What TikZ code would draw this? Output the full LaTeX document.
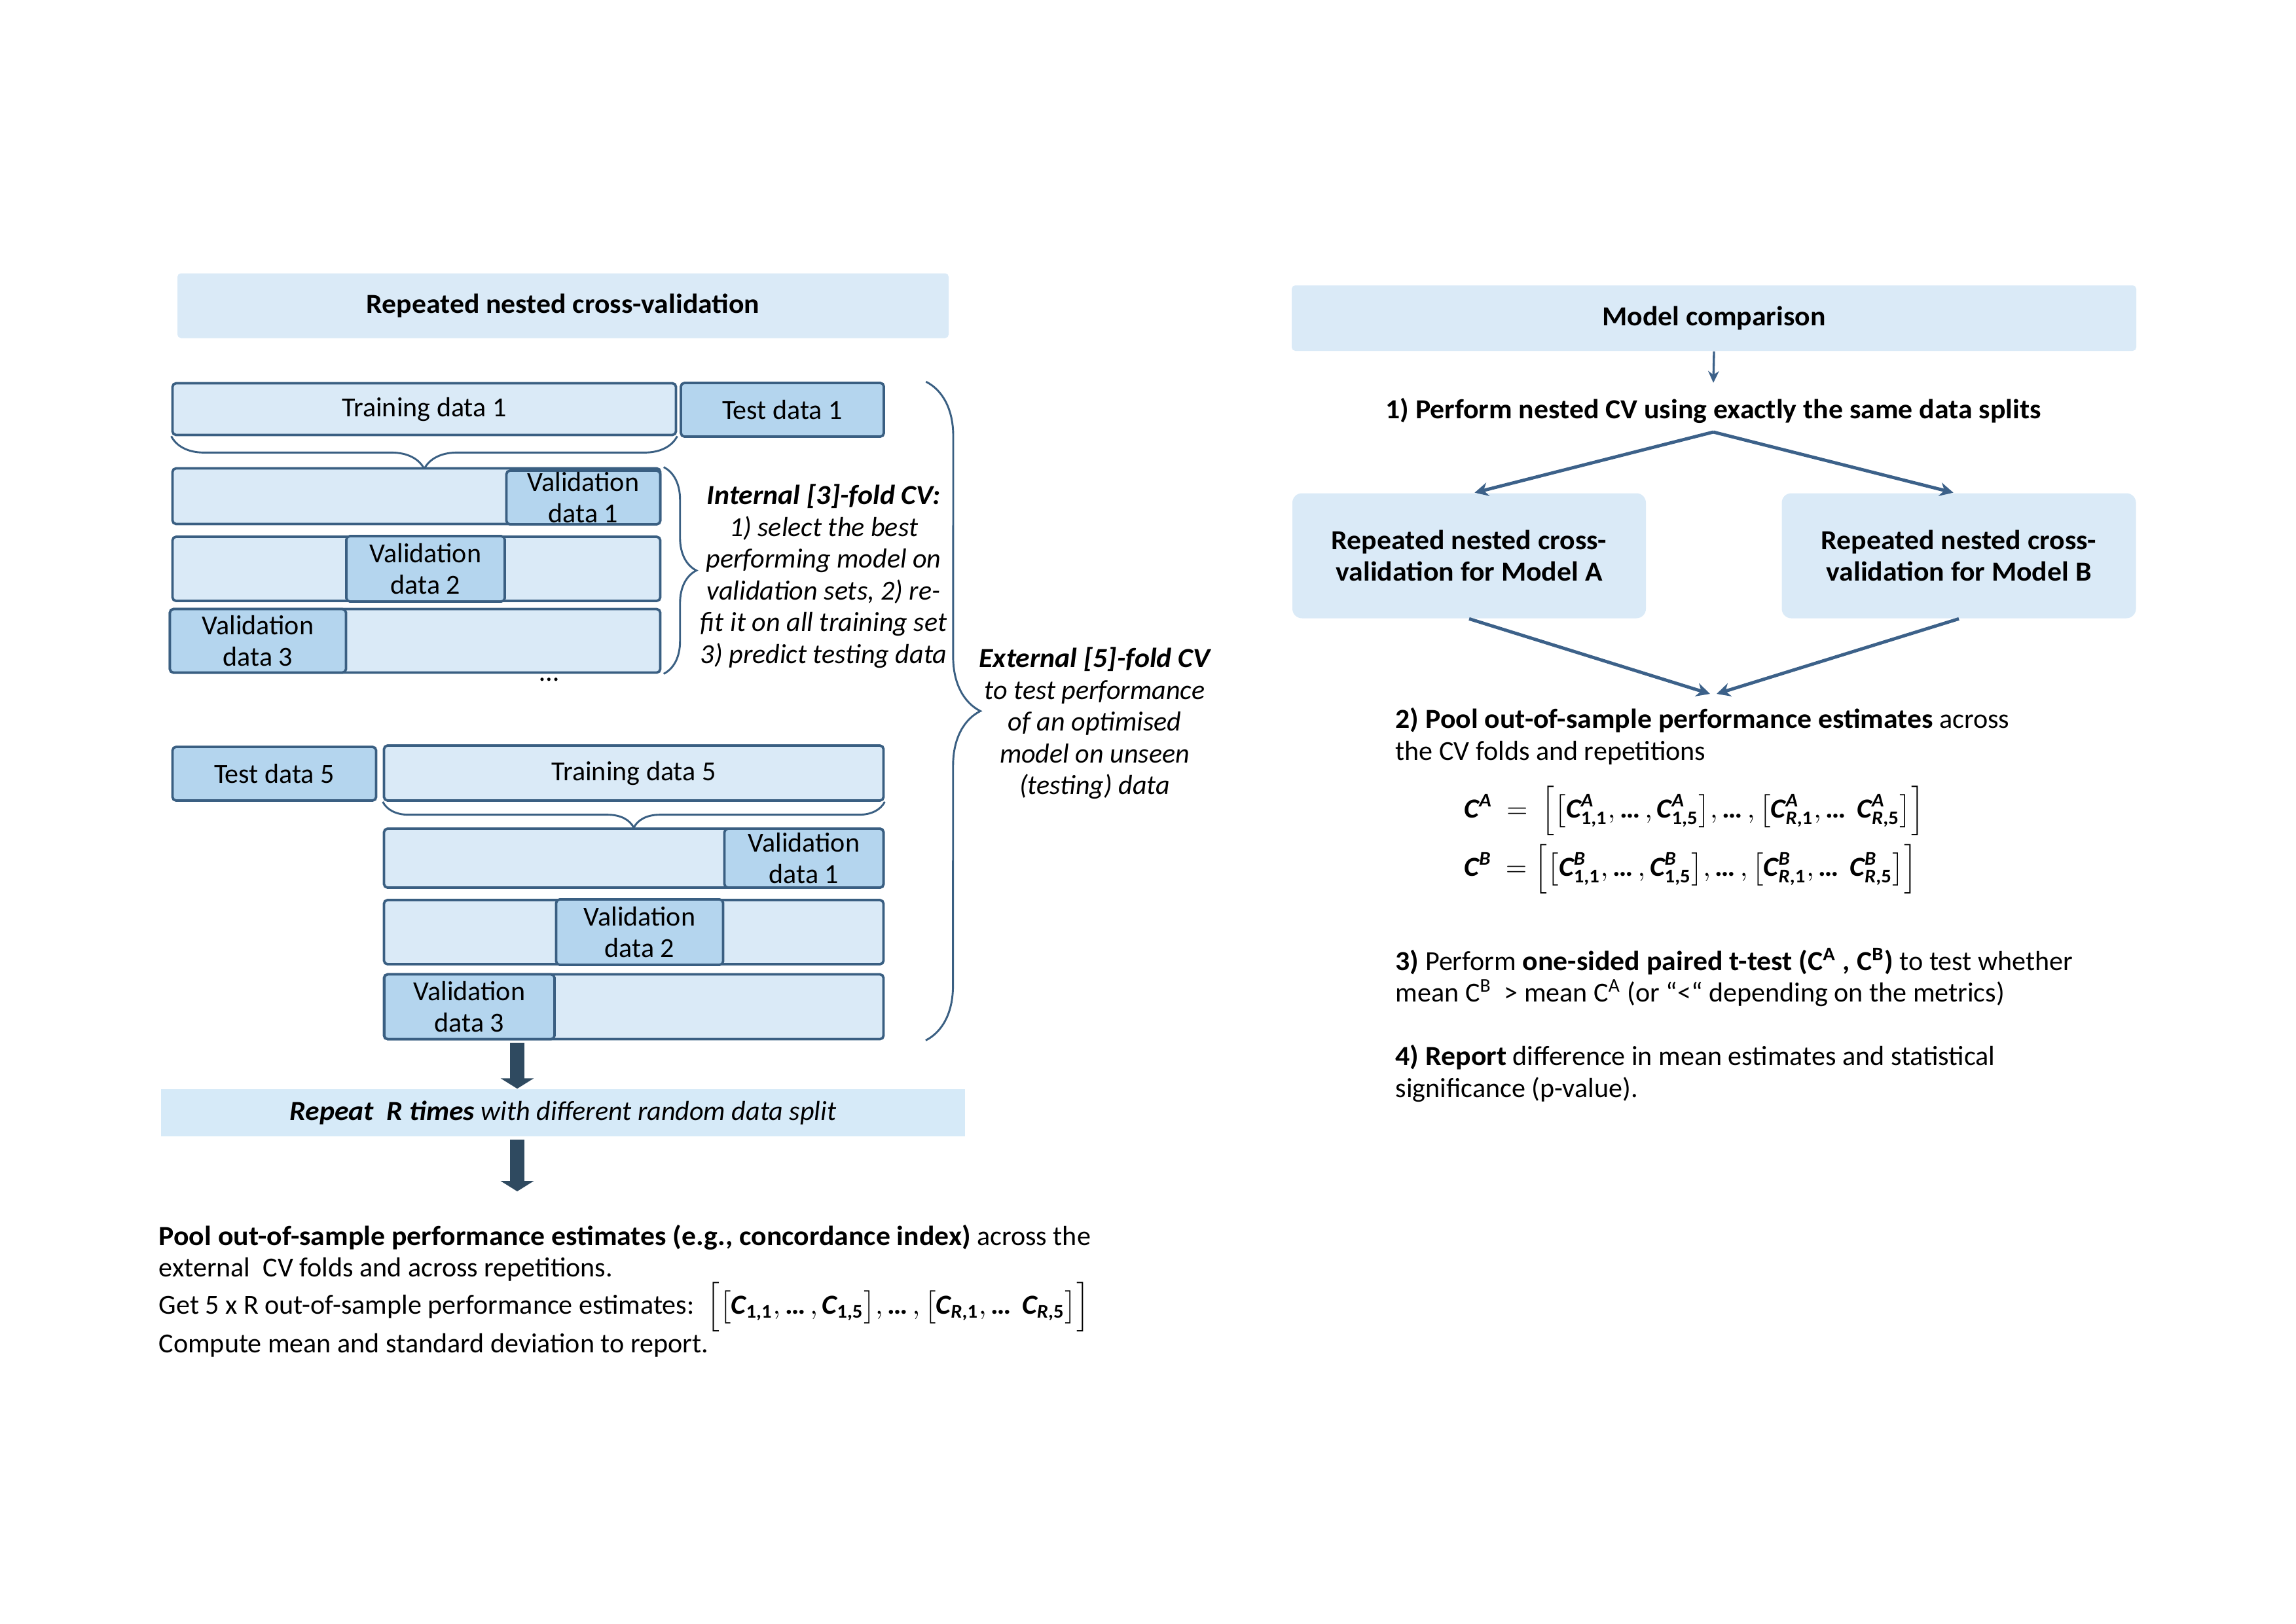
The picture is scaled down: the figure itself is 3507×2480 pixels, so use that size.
\documentclass[tikz,border=0pt]{standalone}
\usepackage{amsmath,amssymb}
\usepackage{fontspec}
\setmainfont{Carlito}[BoldFeatures={FakeStretch=1.04}, BoldItalicFeatures={FakeStretch=1.04}]
\usetikzlibrary{arrows.meta, positioning, decorations.pathreplacing}
\definecolor{edgeblue}{RGB}{58, 95, 130}
\definecolor{lightblue}{RGB}{218, 234, 247}
\definecolor{midblue}{RGB}{180, 213, 238}
\definecolor{repblue}{RGB}{214, 234, 248}
\definecolor{darkarrow}{RGB}{47, 74, 96}
\definecolor{linkblue}{RGB}{60, 97, 137}
\newcommand{\txtsize}{\fontsize{10.1}{11.64}\selectfont}
\newcommand{\mdots}{\mathinner{\text{\normalfont\bfseries …}}}
% bold C with sub- and superscript
\newcommand{\Cbf}{\text{\bfseries\itshape C}}
\newcommand{\Cs}[1]{\Cbf_{\text{\bfseries #1}}}
\newcommand{\Cv}[2]{\Cbf^{\text{\bfseries\itshape #1}}_{\text{\bfseries #2}}}

\begin{document}
\begin{tikzpicture}[x=0.24pt, y=-0.24pt,
  every node/.style={font=\txtsize},
  pxsize/.style 2 args={minimum width=#1*0.24pt, minimum height=#2*0.24pt},
  databox/.style={draw=edgeblue, fill=lightblue, line width=0.9pt, rounded corners=1.3pt, inner sep=0pt},
  valbox/.style={databox, fill=midblue, align=center},
  headbox/.style={fill=lightblue, rounded corners=1.3pt, font=\txtsize\bfseries},
  modelbox/.style={fill=lightblue, rounded corners=3.5pt, align=center, font=\txtsize\bfseries},
  curly/.style={draw=edgeblue, line width=0.7pt, decorate},
  bigarrow/.style={darkarrow, line width=5.5pt, -{Triangle[width=12pt, length=3.8pt]}},
  link/.style={linkblue, line width=1.2pt, -{Stealth[length=5pt, width=5pt]}},
  note/.style={align=left, anchor=west}]
  \useasboundingbox (0,0) rectangle (3507,2480);

  % ---------- left: repeated nested CV ----------
  \node[headbox, pxsize={1178}{99}] (nested) at (860,467) {Repeated nested cross-validation};

  % outer fold 1
  \node[databox, pxsize={769}{79}] (tr1) at (648,625) {Training data 1};
  \node[valbox, pxsize={310}{82}] (te1) at (1195,626) {Test data 1};
  \draw[curly, decoration={brace, mirror, amplitude=12pt}] (tr1.south west) -- (tr1.south east);

  % inner folds
  \node[databox, pxsize={745}{85}] (f1a) at (636,758) {};
  \node[valbox, pxsize={235}{82}] (v1a) at (891,760) {Validation\\data 1};
  \node[databox, pxsize={745}{98}] (f1b) at (636,869) {};
  \node[valbox, pxsize={242}{100}] (v1b) at (650,869) {Validation\\data 2};
  \node[databox, pxsize={749}{97}] (f1c) at (634,979) {};
  \node[valbox, pxsize={269}{97}] (v1c) at (394,979) {Validation\\data 3};
  \draw[curly, decoration={brace, amplitude=12pt}]
    ([xshift=0.8pt]f1a.north east) -- ([xshift=0.8pt]f1c.south east);
  \node[font=\txtsize\itshape, align=center] (inner) at (1258,880)
    {\textbf{Internal [3]-fold CV:}\\1) select the best\\performing model on\\validation sets, 2) re-\\fit it on all training set\\3) predict testing data};
  \node (dots) at (839,1038) {\ldots};

  % outer fold 5
  \node[valbox, pxsize={311}{82}] (te5) at (419,1182) {Test data 5};
  \node[databox, pxsize={763}{84}] (tr5) at (968,1181) {Training data 5};
  \draw[curly, decoration={brace, mirror, amplitude=9.5pt}] (tr5.south west) -- (tr5.south east);

  \node[databox, pxsize={763}{90}] (f5a) at (968,1311) {};
  \node[valbox, pxsize={243}{90}] (v5a) at (1228,1311) {Validation\\data 1};
  \node[databox, pxsize={763}{98}] (f5b) at (968,1424) {};
  \node[valbox, pxsize={255}{100}] (v5b) at (977,1424) {Validation\\data 2};
  \node[databox, pxsize={763}{99}] (f5c) at (968,1538) {};
  \node[valbox, pxsize={260}{99}] (v5c) at (717,1538) {Validation\\data 3};

  % external brace
  \draw[curly, decoration={brace, amplitude=20pt}]
    ([xshift=15pt]te1.north east) -- ([xshift=15pt]f5c.south east);
  \node[font=\txtsize\itshape, align=center] (outer) at (1672,1105)
    {\textbf{External [5]-fold CV}\\to test performance\\of an optimised\\model on unseen\\(testing) data};

  % repeat
  \coordinate (a1) at (790,1593);
  \node[fill=repblue, pxsize={1228}{72}, font=\txtsize\itshape] (rep) at (860,1700)
    {\textbf{Repeat\ \ R times} with different random data split};
  \draw[bigarrow] (a1) -- (a1 |- rep.north);
  \coordinate (pooltop) at (790,1820);
  \draw[bigarrow] ([yshift=-1pt]rep.south -| pooltop) -- (pooltop);

  % pooled result
  \node[note] (pool1) at (228,1890)
    {\textbf{Pool out-of-sample performance estimates (e.g., concordance index)} across the};
  \node[note] (pool2) at (228,1939) {external\ \ CV folds and across repetitions.};
  \node[note] (pool3) at (228,1997)
    {Get 5 x R out-of-sample performance estimates:\ \
     $\Big[\big[\Cs{1,1},\mdots,\Cs{1,5}\big],\mdots,\big[\Cs{\textit{R},1},\mdots\ \Cs{\textit{R},5}\big]\Big]$};
  \node[note] (pool4) at (228,2055) {Compute mean and standard deviation to report.};

  % ---------- right: model comparison ----------
  \node[headbox, pxsize={1290}{100}] (mc) at (2618,486) {Model comparison};
  \node[font=\txtsize\bfseries] (step1) at (2617,627) {1) Perform nested CV using exactly the same data splits};
  \draw[linkblue, line width=0.8pt, -{Stealth[length=4.3pt, width=4pt]}] (mc.south) -- ([yshift=2pt]step1.north);

  \node[modelbox, pxsize={540}{191}] (boxA) at (2244,849) {Repeated nested cross-\\validation for Model A};
  \node[modelbox, pxsize={541}{191}] (boxB) at (2992,849) {Repeated nested cross-\\validation for Model B};
  \coordinate (fork) at (2617,660);
  \draw[link] (fork) -- ([xshift=2pt]boxA.north);
  \draw[link] (fork) -- ([xshift=-2pt]boxB.north);
  \coordinate (mergeA) at (2612,1060);
  \coordinate (mergeB) at (2622,1060);
  \draw[link] (boxA.south) -- (mergeA);
  \draw[link] (boxB.south) -- (mergeB);

  \node[note] (step2) at (2117,1125)
    {\textbf{2) Pool out-of-sample performance estimates} across\\the CV folds and repetitions};
  \node[note] (sumA) at (2222,1239)
    {$\Cbf^{\text{\bfseries\itshape A}}\ =\ \Big[\big[\Cv{A}{1,1},\mdots,\Cv{A}{1,5}\big],\mdots,\big[\Cv{A}{\textit{R},1},\mdots\ \Cv{A}{\textit{R},5}\big]\Big]$};
  \node[note] (sumB) at (2222,1328)
    {$\Cbf^{\text{\bfseries\itshape B}}\ =\Big[\big[\Cv{B}{1,1},\mdots,\Cv{B}{1,5}\big],\mdots,\big[\Cv{B}{\textit{R},1},\mdots\ \Cv{B}{\textit{R},5}\big]\Big]$};
  \node[note] (step3) at (2117,1493)
    {\textbf{3)} Perform \textbf{one-sided paired t-test (C\textsuperscript{A} , C\textsuperscript{B})} to test whether\\mean C\textsuperscript{B}\ \ > mean C\textsuperscript{A} (or “<“ depending on the metrics)};
  \node[note] (step4) at (2117,1640)
    {\textbf{4) Report} difference in mean estimates and statistical\\significance (p-value).};
\end{tikzpicture}
\end{document}
